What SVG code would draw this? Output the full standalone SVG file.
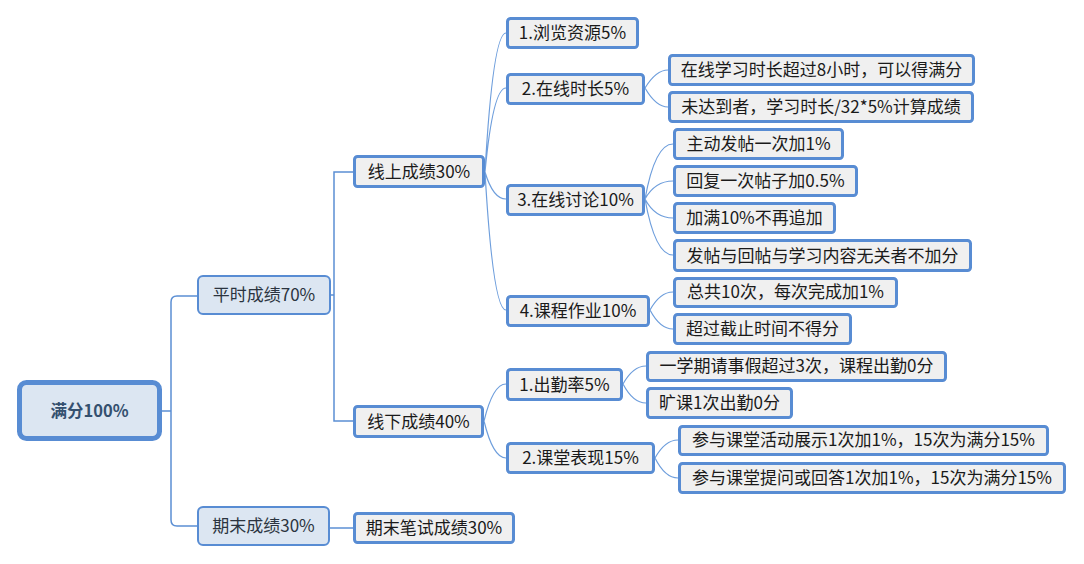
<svg xmlns="http://www.w3.org/2000/svg" width="1084" height="564" viewBox="0 0 1084 564">
<style>
text{font-family:"Noto Sans CJK SC","Microsoft YaHei",sans-serif;font-size:17px;text-anchor:middle;fill:#1a1a1a}
.root rect{fill:#dce6f2;stroke:#588cd3;stroke-width:5}
.root text{font-weight:bold;fill:#34506f;font-size:16.5px}
.l1 rect{fill:#dce6f2;stroke:#588cd3;stroke-width:2}
.l1 text{fill:#2b3440}
.n rect{fill:#f0f0f0;stroke:#588cd3;stroke-width:3}
.c path{fill:none;stroke:#6e9edc;stroke-width:1.2}
.c .t{stroke:#5b8fd4;stroke-width:1.5}
</style>
<rect width="1084" height="564" fill="#ffffff"/>
<g id="connectors" class="c">
<path class="t" d="M162,411 H171 M171,411 V302 Q171,296 177,296 H197 M171,411 V520 Q171,526 177,526 H197"/>
<path class="t" d="M331,295 H334 V172 H353 M334,295 V421 H353"/>
<path class="t" d="M330,528 H353"/>
<path d="M485,172 Q493,33 506,33 M485,172 Q493,88 506,88 M485,172 Q493,199 506,199 M485,172 Q493,310 506,310"/>
<path d="M484,421 Q493,384 506,384 M484,421 Q493,458 506,458"/>
<path d="M645,88 Q656,70 668,70 M645,88 Q656,107 668,107"/>
<path d="M645,199 Q655,144 673,144 M645,199 Q655,181 673,181 M645,199 Q655,218 673,218 M645,199 Q655,255 673,255"/>
<path d="M650,310 Q660,292 673,292 M650,310 Q660,329 673,329"/>
<path d="M623,384 Q633,366 646,366 M623,384 Q633,403 646,403"/>
<path d="M655,458 Q665,440 678,440 M655,458 Q665,478 678,478"/>
</g>
<g id="root" class="root"><rect x="19.5" y="382.5" width="140" height="56" rx="7"/><text x="89.5" y="417">满分100%</text></g>
<g id="pingshi" class="l1"><rect x="198" y="276" width="132" height="38" rx="5"/><text x="264" y="301">平时成绩70%</text></g>
<g id="qimo" class="l1"><rect x="198" y="507" width="131" height="38" rx="5"/><text x="263.5" y="532">期末成绩30%</text></g>
<g id="xianshang" class="n"><rect x="354.5" y="156.5" width="129" height="30" rx="3"/><text x="419" y="178">线上成绩30%</text></g>
<g id="xianxia" class="n"><rect x="354.5" y="406.5" width="128" height="30" rx="3"/><text x="418.5" y="428">线下成绩40%</text></g>
<g id="qimobishi" class="n"><rect x="354.5" y="513.5" width="159" height="29" rx="3"/><text x="434" y="534">期末笔试成绩30%</text></g>
<g id="liulan" class="n"><rect x="507.5" y="18.5" width="130" height="29" rx="3"/><text x="572.5" y="39">1.浏览资源5%</text></g>
<g id="zaixianshichang" class="n"><rect x="507.5" y="74.5" width="136" height="29" rx="3"/><text x="575.5" y="95">2.在线时长5%</text></g>
<g id="taolun" class="n"><rect x="507.5" y="185.5" width="136" height="29" rx="3"/><text x="575.5" y="206">3.在线讨论10%</text></g>
<g id="zuoye" class="n"><rect x="507.5" y="296.5" width="141" height="29" rx="3"/><text x="578" y="317">4.课程作业10%</text></g>
<g id="chuqin" class="n"><rect x="507.5" y="369.5" width="114" height="30" rx="3"/><text x="564.5" y="391">1.出勤率5%</text></g>
<g id="biaoxian" class="n"><rect x="507.5" y="443.5" width="146" height="29" rx="3"/><text x="580.5" y="464">2.课堂表现15%</text></g>
<g id="n1" class="n"><rect x="669.5" y="55.5" width="304" height="29" rx="3"/><text x="821.5" y="76">在线学习时长超过8小时，可以得满分</text></g>
<g id="n2" class="n"><rect x="669.5" y="92.5" width="303" height="29" rx="3"/><text x="821" y="113">未达到者，学习时长/32*5%计算成绩</text></g>
<g id="n3" class="n"><rect x="674.5" y="129.5" width="168" height="29" rx="3"/><text x="758.5" y="150">主动发帖一次加1%</text></g>
<g id="n4" class="n"><rect x="674.5" y="166.5" width="182" height="29" rx="3"/><text x="765.5" y="187">回复一次帖子加0.5%</text></g>
<g id="n5" class="n"><rect x="674.5" y="203.5" width="160" height="29" rx="3"/><text x="754.5" y="224">加满10%不再追加</text></g>
<g id="n6" class="n"><rect x="674.5" y="240.5" width="296" height="30" rx="3"/><text x="822.5" y="262">发帖与回帖与学习内容无关者不加分</text></g>
<g id="n7" class="n"><rect x="674.5" y="278.5" width="222" height="28" rx="3"/><text x="785.5" y="298">总共10次，每次完成加1%</text></g>
<g id="n8" class="n"><rect x="674.5" y="314.5" width="176" height="29" rx="3"/><text x="762.5" y="335">超过截止时间不得分</text></g>
<g id="n9" class="n"><rect x="647.5" y="352.5" width="298" height="28" rx="3"/><text x="796.5" y="372">一学期请事假超过3次，课程出勤0分</text></g>
<g id="n10" class="n"><rect x="647.5" y="388.5" width="144" height="29" rx="3"/><text x="719.5" y="409">旷课1次出勤0分</text></g>
<g id="n11" class="n"><rect x="679.5" y="426.5" width="368" height="28" rx="3"/><text x="863.5" y="446">参与课堂活动展示1次加1%，15次为满分15%</text></g>
<g id="n12" class="n"><rect x="679.5" y="463.5" width="385" height="29" rx="3"/><text x="872" y="484">参与课堂提问或回答1次加1%，15次为满分15%</text></g>
</svg>
